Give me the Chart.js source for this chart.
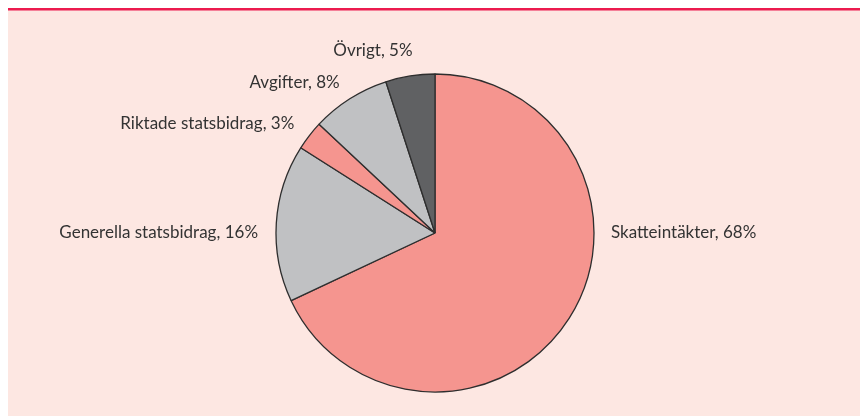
<!DOCTYPE html>
<html>
<head>
<meta charset="utf-8">
<script src="https://cdn.jsdelivr.net/npm/chart.js@4.4.0/dist/chart.umd.min.js"></script>
<style>
  html, body { margin: 0; padding: 0; background: #ffffff; }
  #wrap { position: relative; width: 860px; height: 416px; }
  canvas { display: block; }
</style>
</head>
<body>
<div id="wrap"><canvas id="c" width="860" height="416"></canvas></div>
<script>
const categories = ['Skatteintäkter', 'Generella statsbidrag', 'Riktade statsbidrag', 'Avgifter', 'Övrigt'];
const shares = [68, 16, 3, 8, 5];
const sliceColors = ['#f5958f', '#c0c1c3', '#f5958f', '#c0c1c3', '#606163'];

const backgroundPlugin = {
  id: 'bg',
  beforeDraw(chart) {
    const ctx = chart.ctx;
    ctx.save();
    ctx.fillStyle = '#ffffff';
    ctx.fillRect(0, 0, chart.width, chart.height);
    ctx.fillStyle = '#fde7e2';
    ctx.fillRect(8, 10, chart.width - 8, chart.height - 10);
    ctx.fillStyle = '#ec1b4f';
    ctx.fillRect(8, 8, chart.width - 8, 2.5);
    ctx.restore();
  }
};

const outsideLabels = {
  id: 'outsideLabels',
  afterDatasetsDraw(chart, args, opts) {
    const ctx = chart.ctx;
    const meta = chart.getDatasetMeta(0);
    ctx.save();
    ctx.font = opts.font;
    ctx.fillStyle = opts.color;
    ctx.textBaseline = 'middle';
    meta.data.forEach((arc, i) => {
      const p = arc.getProps(['x', 'y', 'startAngle', 'endAngle', 'outerRadius'], true);
      const ov = (opts.overrides && opts.overrides[i]) || {};
      let a = (p.startAngle + p.endAngle) / 2;
      if (ov.angleDeg !== undefined) a = (ov.angleDeg - 90) * Math.PI / 180;
      const d = p.outerRadius + (ov.gap !== undefined ? ov.gap : opts.gap);
      const x = p.x + Math.cos(a) * d;
      const y = p.y + Math.sin(a) * d;
      ctx.textAlign = Math.cos(a) >= 0 ? 'left' : 'right';
      const text = categories[i] + ', ' + shares[i] + '%';
      ctx.fillText(text, x, y);
    });
    ctx.restore();
  }
};

new Chart(document.getElementById('c'), {
  type: 'pie',
  data: {
    labels: categories,
    datasets: [{
      data: shares,
      backgroundColor: sliceColors,
      borderColor: '#2e2e2e',
      borderWidth: 1.3,
      borderAlign: 'center'
    }]
  },
  options: {
    responsive: false,
    animation: false,
    radius: 159,
    layout: { padding: { left: 10, right: 0, top: 50, bottom: 0 } },
    plugins: {
      legend: { display: false },
      tooltip: { enabled: false },
      outsideLabels: {
        font: '17px Lato, "Open Sans", sans-serif',
        color: '#333333',
        gap: 19,
        overrides: {
          0: { angleDeg: 90, gap: 17 },
          1: { angleDeg: 270.3, gap: 18 },
          4: { angleDeg: 353, gap: 25 }
        }
      }
    }
  },
  plugins: [backgroundPlugin, outsideLabels]
});
</script>
</body>
</html>
